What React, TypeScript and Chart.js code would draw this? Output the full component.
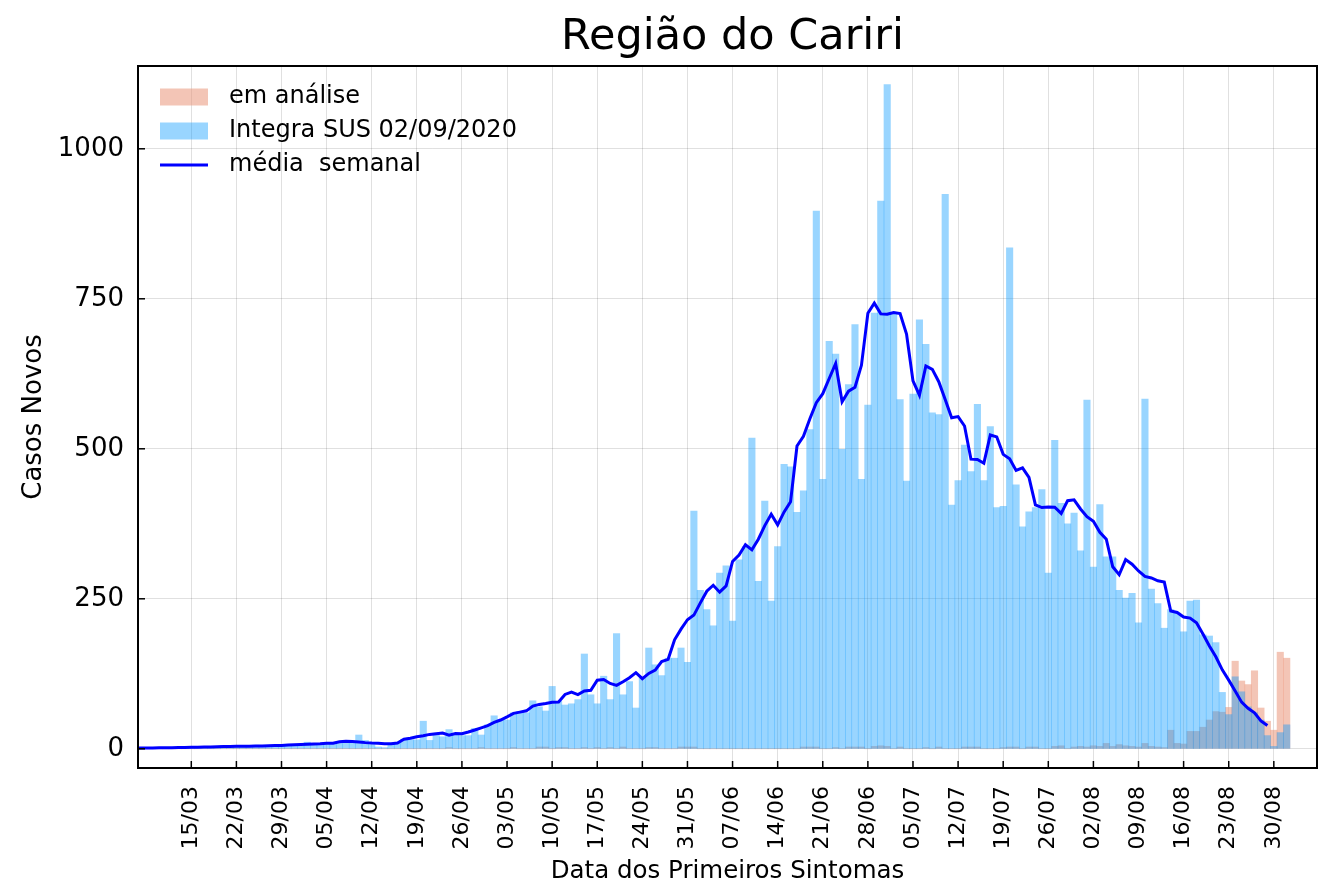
import React, { useEffect, useRef } from 'react';
import { Chart, registerables } from 'chart.js';

Chart.register(...registerables);

// Day offsets are counted from 15/03/2020 (day 0). First value is 03/03/2020.
const FIRST_DAY = -12;

const weekTickLabels = [
  '15/03', '22/03', '29/03', '05/04', '12/04', '19/04', '26/04', '03/05', '10/05',
  '17/05', '24/05', '31/05', '07/06', '14/06', '21/06', '28/06', '05/07', '12/07',
  '19/07', '26/07', '02/08', '09/08', '16/08', '23/08', '30/08',
];
const yTickValues = [0, 250, 500, 750, 1000];

const titleText = 'Região do Cariri';
const xAxisTitle = 'Data dos Primeiros Sintomas';
const yAxisTitle = 'Casos Novos';
const legendLabels = ['em análise', 'Integra SUS 02/09/2020', 'média  semanal'];

// Integra SUS 02/09/2020, daily new cases (03/03 .. 01/09)
const integraSUS = [
  1, 0, 1, 1, 2, 1, 1, 2, 2, 1, 2, 3,
  2, 3, 2, 4, 3, 5, 3,
  4, 5, 3, 6, 5, 4, 6,
  5, 7, 6, 5, 11, 7, 8,
  8, 10, 9, 12, 11, 23, 14,
  7, 3, 2, 8, 9, 16, 15,
  15, 46, 14, 26, 20, 32, 23,
  22, 22, 34, 23, 40, 55, 48,
  48, 60, 62, 60, 80, 70, 63,
  104, 79, 73, 75, 82, 158, 90,
  75, 121, 82, 192, 90, 112, 68,
  118, 168, 140, 122, 151, 151, 168,
  144, 396, 264, 232, 205, 293, 305,
  213, 315, 337, 518, 279, 413, 246,
  337, 474, 470, 394, 430, 532, 896,
  449, 679, 658, 499, 607, 707, 449,
  573, 726, 913, 1107, 724, 582, 446,
  591, 715, 674, 560, 557, 924, 406,
  447, 506, 462, 574, 447, 537, 402,
  404, 835, 440, 370, 395, 402, 432,
  293, 514, 409, 375, 393, 330, 581,
  303, 407, 320, 320, 264, 251, 259,
  210, 583, 266, 242, 201, 232, 226,
  195, 246, 248, 190, 188, 177, 94,
  57, 120, 95, 70, 60, 48, 22,
  4, 27, 40,
];

// em análise, daily values (03/03 .. 01/09)
const emAnalise = [
  0, 0, 0, 0, 0, 0, 0, 0, 0, 0, 0, 0,
  0, 0, 0, 0, 0, 0, 0,
  0, 0, 0, 0, 0, 0, 0,
  0, 0, 0, 0, 0, 0, 0,
  0, 0, 0, 0, 0, 0, 0,
  0, 0, 0, 0, 0, 0, 0,
  0, 0, 0, 0, 0, 2, 0,
  0, 0, 0, 2, 0, 0, 0,
  0, 2, 0, 0, 0, 3, 3,
  0, 2, 2, 0, 0, 2, 0,
  2, 0, 2, 0, 3, 0, 0,
  0, 2, 2, 0, 0, 0, 3,
  3, 3, 0, 0, 0, 0, 0,
  0, 0, 0, 0, 0, 0, 0,
  0, 0, 0, 0, 3, 3, 3,
  0, 0, 2, 0, 3, 3, 3,
  0, 4, 5, 4, 0, 3, 0,
  0, 0, 2, 0, 3, 0, 0,
  0, 3, 3, 3, 0, 0, 0,
  2, 3, 3, 0, 3, 3, 0,
  0, 4, 5, 0, 3, 4, 3,
  5, 4, 9, 4, 7, 5, 4,
  3, 9, 4, 3, 2, 31, 9,
  8, 29, 29, 36, 48, 62, 61,
  69, 146, 113, 107, 130, 68, 46,
  31, 161, 151,
];

const COLOR_ANALISE = 'rgba(233,150,122,0.55)';
const COLOR_SUS = 'rgba(0,150,255,0.4)';
const COLOR_LINE = '#0000ff';
const FONT = 'DejaVu Sans';

function toPoints(values: number[]) {
  return values.map((v, i) => ({ x: FIRST_DAY + i, y: v }));
}

// centred 7-day mean of the Integra SUS series
function weeklyMean(values: number[]) {
  const pts: { x: number; y: number }[] = [];
  for (let i = 3; i < values.length - 3; i++) {
    let s = 0;
    for (let k = -3; k <= 3; k++) s += values[i + k];
    pts.push({ x: FIRST_DAY + i, y: s / 7 });
  }
  return pts;
}

const overlayPlugin = {
  id: 'overlayPlugin',
  afterDraw(chart: any) {
    const { ctx, chartArea: a, scales } = chart;
    const xs = scales.x;
    const ys = scales.y;
    ctx.save();
    ctx.strokeStyle = '#000';
    ctx.lineWidth = 1.5;
    xs.ticks.forEach((t: any) => {
      const px = xs.getPixelForValue(t.value);
      ctx.beginPath();
      ctx.moveTo(px, a.bottom);
      ctx.lineTo(px, a.bottom - 7);
      ctx.stroke();
    });
    ys.ticks.forEach((t: any) => {
      const py = ys.getPixelForValue(t.value);
      ctx.beginPath();
      ctx.moveTo(a.left, py);
      ctx.lineTo(a.left + 7, py);
      ctx.stroke();
    });
    ctx.lineWidth = 2;
    ctx.strokeRect(a.left, a.top, a.right - a.left, a.bottom - a.top);

    // title above the plot
    ctx.fillStyle = '#000';
    ctx.font = `43px "${FONT}"`;
    ctx.textAlign = 'center';
    ctx.textBaseline = 'alphabetic';
    ctx.fillText(titleText, (a.left + a.right) / 2 + 5, a.top - 17.5);

    // legend inside the plot, top-left, no frame
    const lx = a.left + 22;
    const tx = a.left + 91;
    const rows = [a.top + 31, a.top + 65, a.top + 99];
    ctx.fillStyle = COLOR_ANALISE;
    ctx.fillRect(lx, rows[0] - 8.5, 48, 17);
    ctx.fillStyle = COLOR_SUS;
    ctx.fillRect(lx, rows[1] - 8.5, 48, 17);
    ctx.strokeStyle = COLOR_LINE;
    ctx.lineWidth = 3;
    ctx.beginPath();
    ctx.moveTo(lx, rows[2]);
    ctx.lineTo(lx + 48, rows[2]);
    ctx.stroke();
    ctx.fillStyle = '#000';
    ctx.font = `24px "${FONT}"`;
    ctx.textBaseline = 'middle';
    ctx.textAlign = 'left';
    legendLabels.forEach((lab, i) => ctx.fillText(lab, tx, rows[i]));
    ctx.restore();
  },
};

export default function App() {
  const canvasRef = useRef<HTMLCanvasElement | null>(null);

  useEffect(() => {
    const canvas = canvasRef.current;
    if (!canvas) return;
    const chart = new Chart(canvas, {
      type: 'bar',
      data: {
        datasets: [
          {
            type: 'line',
            label: legendLabels[2],
            data: weeklyMean(integraSUS),
            borderColor: COLOR_LINE,
            backgroundColor: COLOR_LINE,
            borderWidth: 3,
            pointRadius: 0,
            tension: 0,
            order: 0,
          } as any,
          {
            type: 'bar',
            label: legendLabels[1],
            data: toPoints(integraSUS),
            backgroundColor: COLOR_SUS,
            borderWidth: 0,
            barPercentage: 1,
            categoryPercentage: 1,
            grouped: false,
            order: 1,
          } as any,
          {
            type: 'bar',
            label: legendLabels[0],
            data: toPoints(emAnalise),
            backgroundColor: COLOR_ANALISE,
            borderWidth: 0,
            barPercentage: 1,
            categoryPercentage: 1,
            grouped: false,
            order: 2,
          } as any,
        ],
      },
      options: {
        responsive: false,
        maintainAspectRatio: false,
        animation: false,
        devicePixelRatio: 1,
        layout: { padding: { top: 66, left: 8, right: 2, bottom: 0 } },
        plugins: {
          legend: { display: false },
          tooltip: { enabled: false },
          title: { display: false },
        },
        scales: {
          x: {
            type: 'linear',
            min: -8.27,
            max: 174.7,
            offset: false,
            grid: { color: 'rgba(0,0,0,0.12)', lineWidth: 1, drawTicks: false, offset: false },
            border: { display: false },
            afterBuildTicks: (scale: any) => {
              scale.ticks = weekTickLabels.map((_, i) => ({ value: i * 7 }));
            },
            afterFit: (scale: any) => {
              scale.height = 116;
            },
            ticks: {
              autoSkip: false,
              maxRotation: 90,
              minRotation: 90,
              padding: 18,
              color: '#000',
              font: { family: FONT, size: 22 },
              callback: (value: any) => weekTickLabels[Math.round(Number(value) / 7)] ?? '',
            },
            title: {
              display: true,
              text: xAxisTitle,
              color: '#000',
              font: { family: FONT, size: 24.5, lineHeight: 1.0 },
              padding: { top: 0, bottom: 0 },
            },
          },
          y: {
            type: 'linear',
            min: -32,
            max: 1138,
            grid: { color: 'rgba(0,0,0,0.12)', lineWidth: 1, drawTicks: false },
            border: { display: false },
            afterBuildTicks: (scale: any) => {
              scale.ticks = yTickValues.map((v) => ({ value: v }));
            },
            afterFit: (scale: any) => {
              scale.width = 130;
            },
            ticks: {
              padding: 14,
              color: '#000',
              font: { family: FONT, size: 26 },
              callback: (value: any) => String(value),
            },
            title: {
              display: true,
              text: yAxisTitle,
              color: '#000',
              font: { family: FONT, size: 26 },
              padding: { top: 11, bottom: 0 },
            },
          },
        },
      },
      plugins: [overlayPlugin],
    } as any);
    return () => chart.destroy();
  }, []);

  return (
    <div style={{ position: 'fixed', left: 0, top: 0, width: 1319, height: 884, background: '#fff' }}>
      <canvas ref={canvasRef} width={1319} height={884} style={{ display: 'block', width: 1319, height: 884 }} />
    </div>
  );
}
